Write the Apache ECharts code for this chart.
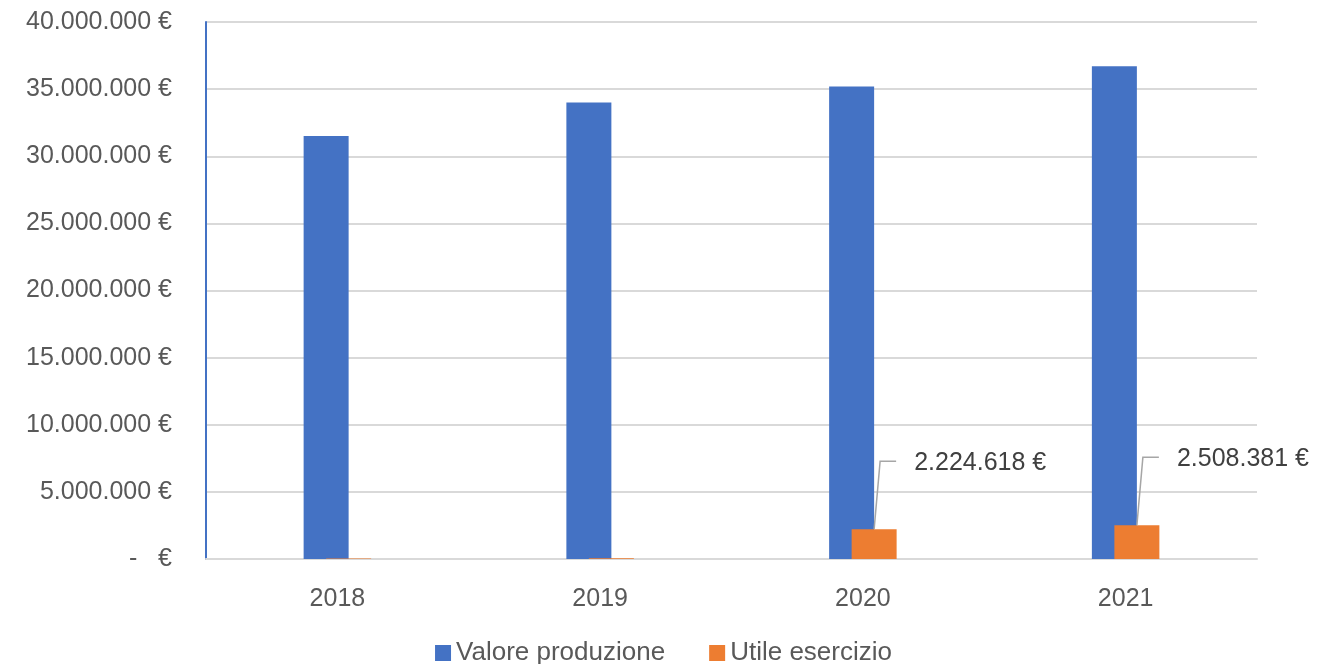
<!DOCTYPE html>
<html>
<head>
<meta charset="utf-8">
<script src="https://cdn.jsdelivr.net/npm/echarts@6/dist/echarts.min.js"></script>
<style>
html,body{margin:0;padding:0;background:#fff;}
#chart{width:1327px;height:664px;}
</style>
</head>
<body>
<div id="chart"></div>
<script>
const categories = ['2018', '2019', '2020', '2021'];
const valoreProduzione = [31500000, 34000000, 35200000, 36700000];
const utileEsercizio = [45000, 50000, 2224618, 2508381];
const seriesNames = ['Valore produzione', 'Utile esercizio'];

function fmt(v) {
  if (v === 0) return '-   €';
  const s = Math.round(v).toString().replace(/\B(?=(\d{3})+(?!\d))/g, '.');
  return s + ' €';
}

const FONT = '"Liberation Sans", Arial, sans-serif';
const BAR_W = 45;
const LABEL_MIN = 1000000;
const chart = echarts.init(document.getElementById('chart'), null, {renderer: 'canvas'});

const leaderData = [];
utileEsercizio.forEach((v, i) => { if (v > LABEL_MIN) leaderData.push([i, v]); });

const option = {
  animation: false,
  backgroundColor: '#ffffff',
  grid: {left: 206, right: 70, top: 22, bottom: 105, containLabel: false},
  legend: {
    top: 635,
    left: 'center',
    itemWidth: 16,
    itemHeight: 16,
    itemGap: 44,
    icon: 'rect',
    textStyle: {fontFamily: FONT, fontSize: 26, color: '#595959'},
    data: seriesNames
  },
  xAxis: {
    type: 'category',
    data: categories,
    axisLine: {lineStyle: {color: '#D9D9D9', width: 2}},
    axisTick: {show: false},
    axisLabel: {fontFamily: FONT, fontSize: 25, color: '#595959', margin: 28}
  },
  yAxis: {
    type: 'value',
    min: 0,
    max: 40000000,
    interval: 5000000,
    axisLine: {show: true, lineStyle: {color: '#4472C4', width: 2}},
    axisTick: {show: false},
    splitLine: {lineStyle: {color: '#D9D9D9', width: 2}},
    axisLabel: {fontFamily: FONT, fontSize: 25, color: '#595959', margin: 34, formatter: fmt}
  },
  series: [
    {
      name: seriesNames[0],
      type: 'bar',
      data: valoreProduzione,
      barWidth: BAR_W,
      barGap: '-50%',
      itemStyle: {color: '#4472C4'}
    },
    {
      name: seriesNames[1],
      type: 'bar',
      data: utileEsercizio.map(v => ({value: v, label: {show: v > LABEL_MIN}})),
      barWidth: BAR_W,
      itemStyle: {color: '#ED7D31'},
      label: {
        position: 'top',
        fontFamily: FONT,
        fontSize: 25,
        color: '#404040',
        formatter: p => fmt(p.value)
      },
      labelLayout: function (params) {
        const r = params.rect;
        const cx = r.x + r.width / 2;
        const ly = r.y - 68;
        return {x: cx + 40, y: ly + 2, align: 'left', verticalAlign: 'middle'};
      }
    },
    {
      name: 'leader',
      type: 'custom',
      silent: true,
      z: 5,
      data: leaderData,
      renderItem: function (params, api) {
        const p = api.coord([api.value(0), api.value(1)]);
        const cx = p[0] + BAR_W / 4;
        const top = p[1];
        const ly = top - 68;
        return {
          type: 'polyline',
          shape: {points: [[cx, top], [cx + 6, ly], [cx + 22, ly]]},
          style: {stroke: '#A6A6A6', lineWidth: 1.5, fill: null}
        };
      }
    }
  ]
};
chart.setOption(option);
</script>
</body>
</html>
